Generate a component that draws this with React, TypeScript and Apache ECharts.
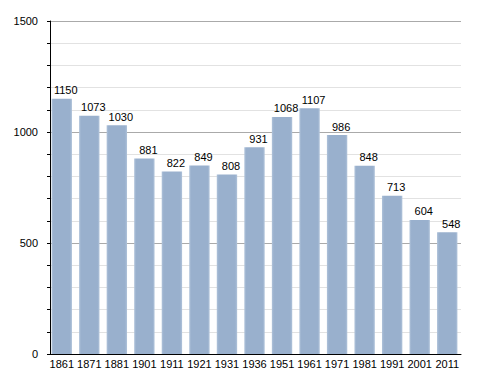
import React, { useEffect, useRef } from "react";
import * as echarts from "echarts";

const categories = ["1861", "1871", "1881", "1901", "1911", "1921", "1931", "1936", "1951", "1961", "1971", "1981", "1991", "2001", "2011"];
const population = [1150, 1073, 1030, 881, 822, 849, 808, 931, 1068, 1107, 986, 848, 713, 604, 548];
const yTicks = [0, 500, 1000, 1500];

export default function App() {
  const ref = useRef<HTMLDivElement>(null);
  useEffect(() => {
    const chart = echarts.init(ref.current!, null, { renderer: "svg" });
    chart.setOption({
      animation: false,
      backgroundColor: "#ffffff",
      textStyle: { fontFamily: "Liberation Sans, Arial, sans-serif" },
      grid: { left: 48, right: 27, top: 21, bottom: 19, containLabel: false },
      xAxis: {
        type: "category",
        data: categories,
        axisLine: { show: true, lineStyle: { color: "#000", width: 1 } },
        axisTick: { show: false },
        axisLabel: { color: "#000", fontSize: 11, margin: 4, interval: 0 },
      },
      yAxis: {
        type: "value",
        min: yTicks[0],
        max: yTicks[yTicks.length - 1],
        interval: 500,
        offset: -2,
        axisLine: { show: true, lineStyle: { color: "#000", width: 1 } },
        axisTick: { show: true, length: 3, lineStyle: { color: "#000" } },
        minorTick: { show: true, splitNumber: 5, length: 3, lineStyle: { color: "#000" } },
        axisLabel: { color: "#000", fontSize: 11, margin: 12, formatter: (v: number) => String(v) },
        splitLine: { show: true, lineStyle: { color: "#aaaaaa", width: 1 } },
        minorSplitLine: { show: true, lineStyle: { color: "#e2e2e2", width: 1 } },
      },
      series: [
        {
          type: "bar",
          data: population,
          barCategoryGap: "26%",
          itemStyle: {
            color: new echarts.graphic.LinearGradient(0, 0, 1, 0, [
              { offset: 0, color: "#b0c3da" },
              { offset: 0.1, color: "#99b0cd" },
              { offset: 0.9, color: "#99b0cd" },
              { offset: 1, color: "#b0c3da" },
            ]),
          },
          label: {
            show: true,
            position: "top",
            offset: [4, 0],
            color: "#000",
            fontSize: 11,
            distance: 3,
          },
        },
      ],
    });
    return () => chart.dispose();
  }, []);
  return <div ref={ref} style={{ width: 488, height: 373, position: "absolute", left: 0, top: 0 }} />;
}
